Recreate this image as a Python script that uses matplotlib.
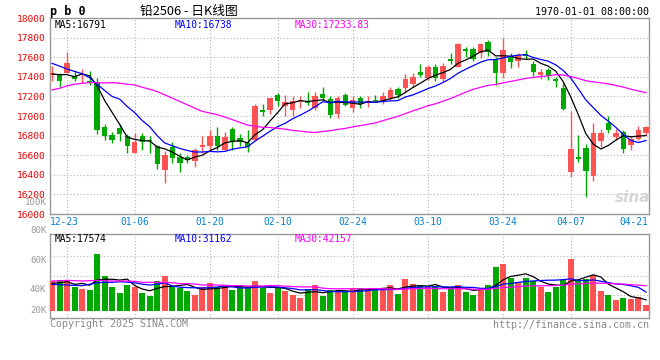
import matplotlib
matplotlib.use("Agg")
import matplotlib.pyplot as plt
import matplotlib.transforms as mtransforms
import numpy as np
import pandas as pd

# ---------------- data ----------------
opens = [17420, 17425, 17442, 17412, 17420, 17361, 17334, 16888, 16807, 16881,
         16800, 16618, 16800, 16760, 16692, 16449, 16685, 16584, 16577, 16543,
         16685, 16692, 16793, 16651, 16868, 16773, 16726, 16753, 17057, 17057,
         17216, 17104, 17063, 17138, 17155, 17084, 17226, 17172, 17016, 17216,
         17084, 17182, 17131, 17165, 17138, 17182, 17277, 17283, 17330, 17449,
         17384, 17503, 17378, 17580, 17503, 17682, 17682, 17638, 17756, 17570,
         17435, 17597, 17563, 17631, 17530, 17418, 17469, 17378, 17290, 16428,
         16577, 16678, 16388, 16743, 16928, 16787, 16837, 16699, 16767, 16827]
highs = [17510, 17442, 17651, 17462, 17479, 17462, 17384, 16922, 16834, 16918,
         16820, 16831, 16827, 16793, 16709, 16640, 16736, 16618, 16607, 16672,
         16800, 16854, 16884, 16834, 16884, 16814, 16861, 17124, 17118, 17182,
         17239, 17212, 17199, 17199, 17246, 17246, 17293, 17206, 17199, 17239,
         17199, 17206, 17199, 17212, 17249, 17300, 17300, 17428, 17435, 17530,
         17520, 17526, 17537, 17638, 17746, 17706, 17699, 17746, 17773, 17604,
         17800, 17638, 17638, 17672, 17564, 17476, 17486, 17401, 17337, 17053,
         16807, 16712, 16932, 16868, 16996, 16868, 16861, 16800, 16895, 16895]
lows = [17360, 17293, 17435, 17361, 17334, 17317, 16820, 16760, 16726, 16743,
        16618, 16618, 16658, 16618, 16462, 16314, 16523, 16429, 16523, 16483,
        16624, 16658, 16658, 16651, 16651, 16692, 16631, 16753, 17003, 17016,
        17097, 17003, 17003, 17084, 17111, 17063, 17151, 16976, 16976, 17097,
        17036, 17077, 17087, 17138, 17124, 17165, 17182, 17246, 17300, 17401,
        17367, 17357, 17351, 17530, 17496, 17604, 17563, 17587, 17611, 17317,
        17384, 17486, 17496, 17577, 17408, 17374, 17367, 17300, 17057, 16378,
        16530, 16178, 16334, 16685, 16827, 16753, 16624, 16651, 16760, 16807]
closes = [17440, 17361, 17543, 17374, 17430, 17341, 16854, 16793, 16760, 16820,
          16692, 16739, 16733, 16740, 16510, 16604, 16570, 16523, 16550, 16658,
          16702, 16793, 16692, 16787, 16733, 16736, 16685, 17104, 17040, 17182,
          17158, 17138, 17155, 17158, 17131, 17199, 17185, 17010, 17182, 17114,
          17165, 17124, 17148, 17148, 17199, 17266, 17216, 17374, 17401, 17418,
          17503, 17384, 17509, 17563, 17733, 17665, 17580, 17733, 17655, 17435,
          17672, 17553, 17621, 17611, 17452, 17452, 17408, 17361, 17074, 16668,
          16557, 16435, 16827, 16827, 16854, 16827, 16665, 16767, 16861, 16884]
volumes = [49000, 50100, 51200, 39100, 35800, 34100, 93000, 57200, 39100, 29200,
           42400, 39100, 29200, 24800, 49000, 57200, 40200, 37400, 32500, 25900,
           39100, 45700, 39100, 42400, 34100, 39100, 39100, 49000, 36900, 29200,
           36900, 32500, 25900, 20900, 35200, 42400, 24200, 34100, 30300, 33000,
           37400, 37400, 35800, 35800, 37400, 42400, 27500, 52300, 44000, 40700,
           38500, 40700, 31400, 36900, 42400, 31400, 25900, 37400, 42400, 72100,
           77000, 53900, 47300, 53900, 49000, 39100, 30800, 39100, 50600, 85300,
           49000, 52300, 58900, 32500, 25900, 17600, 20900, 19300, 22600, 9400]

# moving-average values at the left edge (window reaches before the chart)
ma5_head = [17428, 17422, 17422, 17401]
ma10_head = [17537, 17509, 17479, 17455, 17432, 17391, 17324, 17260, 17199]
ma30_head = [17266, 17283, 17307, 17324, 17334, 17341, 17341, 17337, 17341, 17334,
             17324, 17317, 17293, 17273, 17249, 17216, 17182, 17148, 17114, 17080,
             17047, 17030, 17013, 16989, 16962, 16935, 16908, 16895, 16885]
vma5_head = [45100, 46200, 47900, 43500]
vma10_head = [43500, 42900, 42400, 41800, 41300, 43500, 46200, 46800, 46800]
vma30_head = [49000, 49500, 50100, 49500, 49000, 49500, 50100, 49500, 49000, 49000,
              49000, 48400, 46800, 46800, 46800, 46800, 46200, 44600, 44600, 44000,
              42400, 42400, 42400, 41800, 41300, 41300, 40700, 40700, 40700]

date_idx = [2, 11, 21, 30, 40, 50, 60, 69, 79]
date_labels = ["12-23", "01-06", "01-20", "02-10", "02-24", "03-10", "03-24", "04-07", "04-21"]
price_ticks = list(range(16000, 18001, 200))
vol_axis_labels = ["100K", "80K", "60K", "40K", "20K"]

title_code = "p b 0"
title_main = "铅2506 - 日K线图"
stamp = "1970-01-01 08:00:00"
price_ma_texts = ["MA5:16791", "MA10:16738", "MA30:17233.83"]
vol_ma_texts = ["MA5:17574", "MA10:31162", "MA30:42157"]

# ---------------- helpers ----------------
def with_head(series, head, n):
    s = pd.Series(series, dtype=float)
    r = s.rolling(n).mean().to_numpy()
    r[:len(head)] = head
    return r

W, H = 660, 360
def fx(x): return x / W
def fy(y): return 1 - y / H

RED = "#ff5353"
GREEN = "#00a800"
GRID = "#b4b4b4"
FRAME = "#999999"
MONO = "DejaVu Sans Mono"

o = np.array(opens, float); c = np.array(closes, float)
h = np.array(highs, float); l = np.array(lows, float)
v = np.array(volumes, float)
x = np.arange(len(c))
up = c >= o
cols = np.where(up, RED, GREEN)

fig = plt.figure(figsize=(6.6, 3.6), dpi=100)
ax = fig.add_axes([fx(50), fy(214), (649 - 50) / W, (214 - 18) / H])
axv = fig.add_axes([fx(50), fy(317.7), (649 - 50) / W, (317.7 - 234) / H])

XLIM = (-0.27, 79.4)

# ---------- price panel ----------
ax.set_xlim(*XLIM)
ax.set_ylim(16000, 18000)
ax.set_yticks(price_ticks)
ax.set_yticklabels([str(t) for t in price_ticks], family=MONO, fontsize=6.8, color="#ee0000")
lift = mtransforms.ScaledTranslation(0, 2.2 / 100, fig.dpi_scale_trans)
for lab in ax.get_yticklabels():
    lab.set_transform(lab.get_transform() + lift)
ax.set_xticks(date_idx[:-1])
ax.set_xticklabels([])
ax.tick_params(length=0, pad=3)
ax.grid(True, color=GRID, linestyle=(0, (1, 2)), linewidth=0.8)
for s in ax.spines.values():
    s.set_color(FRAME); s.set_linewidth(1.0)

ax.vlines(x, l, h, colors=cols, linewidth=1.0, zorder=3)
body_lo = np.minimum(o, c)
body_h = np.maximum(np.abs(c - o), 9)
ax.bar(x, body_h, bottom=body_lo, width=0.72, color=cols, linewidth=0, zorder=4)

ma5 = with_head(closes, ma5_head, 5)
ma10 = with_head(closes, ma10_head, 10)
ma30 = with_head(closes, ma30_head, 30)
ax.plot(x, ma5, color="black", lw=0.9, zorder=5)
ax.plot(x, ma10, color="#0000ff", lw=0.9, zorder=5)
ax.plot(x, ma30, color="#ff00ff", lw=0.9, zorder=5)

for txt, xx, col in zip(price_ma_texts, [55, 175, 295], ["black", "#0000ff", "#ff00ff"]):
    fig.text(fx(xx), fy(24.5), txt, family=MONO, fontsize=6.9, color=col, va="center", ha="left")

# date labels
trans = mtransforms.blended_transform_factory(ax.transData, fig.transFigure)
for i, (di, lab) in enumerate(zip(date_idx, date_labels)):
    if i == 0:
        fig.text(fx(50), fy(221.7), lab, family=MONO, fontsize=6.9, color="#0a82d0", ha="left", va="center")
    elif i == len(date_idx) - 1:
        fig.text(fx(648.5), fy(221.7), lab, family=MONO, fontsize=6.9, color="#0a82d0", ha="right", va="center")
    else:
        ax.text(di, fy(221.7), lab, transform=trans, family=MONO, fontsize=6.9, color="#0a82d0", ha="center", va="center")

# watermark
fig.text(fx(633), fy(197), "sina", fontsize=11, fontweight="bold", style="italic", color="#d6d6d6",
         ha="center", va="center", family="DejaVu Sans")

# ---------- volume panel ----------
VPX = 1650.0  # volume per pixel
axv.set_xlim(*XLIM)
axv.set_ylim(-7 * VPX, 76.7 * VPX)
axv.set_yticks([(310.7 - yy) * VPX for yy in (256, 275.7, 295)])
axv.set_yticklabels([])
axv.set_xticks(date_idx[:-1])
axv.set_xticklabels([])
axv.tick_params(length=0)
axv.grid(True, color=GRID, linestyle=(0, (1, 2)), linewidth=0.8)
for s in axv.spines.values():
    s.set_color(FRAME); s.set_linewidth(1.0)

axv.bar(x, v, width=0.8, color=cols, linewidth=0, zorder=3)
vma5 = with_head(volumes, vma5_head, 5)
vma10 = with_head(volumes, vma10_head, 10)
vma30 = with_head(volumes, vma30_head, 30)
axv.plot(x, vma5, color="black", lw=0.9, zorder=5)
axv.plot(x, vma10, color="#0000ff", lw=0.9, zorder=5)
axv.plot(x, vma30, color="#ff00ff", lw=0.9, zorder=5)

for txt, xx, col in zip(vol_ma_texts, [55, 175, 295], ["black", "#0000ff", "#ff00ff"]):
    fig.text(fx(xx), fy(238.5), txt, family=MONO, fontsize=6.9, color=col, va="center", ha="left")

for lab, yy in zip(vol_axis_labels, [202.5, 230.7, 260.7, 290, 310.7]):
    fig.text(fx(46.5), fy(yy), lab, family=MONO, fontsize=6.6, color="#9a9a9a", ha="right", va="center")

# ---------- header / footer ----------
fig.text(fx(50), fy(11), title_code, family=MONO, fontsize=8.5, fontweight="bold", color="black",
         ha="left", va="center")
fig.text(fx(140), fy(11), title_main, family=["Noto Sans CJK SC", "DejaVu Sans"], fontsize=9.2,
         color="black", ha="left", va="center")
fig.text(fx(649), fy(12), stamp, family=MONO, fontsize=7.2, color="black", ha="right", va="center")
fig.text(fx(50), fy(324), "Copyright 2025 SINA.COM", family=MONO, fontsize=7.2, color="#8a8a8a",
         ha="left", va="center")
fig.text(fx(649), fy(324.5), "http://finance.sina.com.cn", family=MONO, fontsize=7.2, color="#8a8a8a",
         ha="right", va="center")

fig.savefig("out.png", dpi=100, facecolor="white")
